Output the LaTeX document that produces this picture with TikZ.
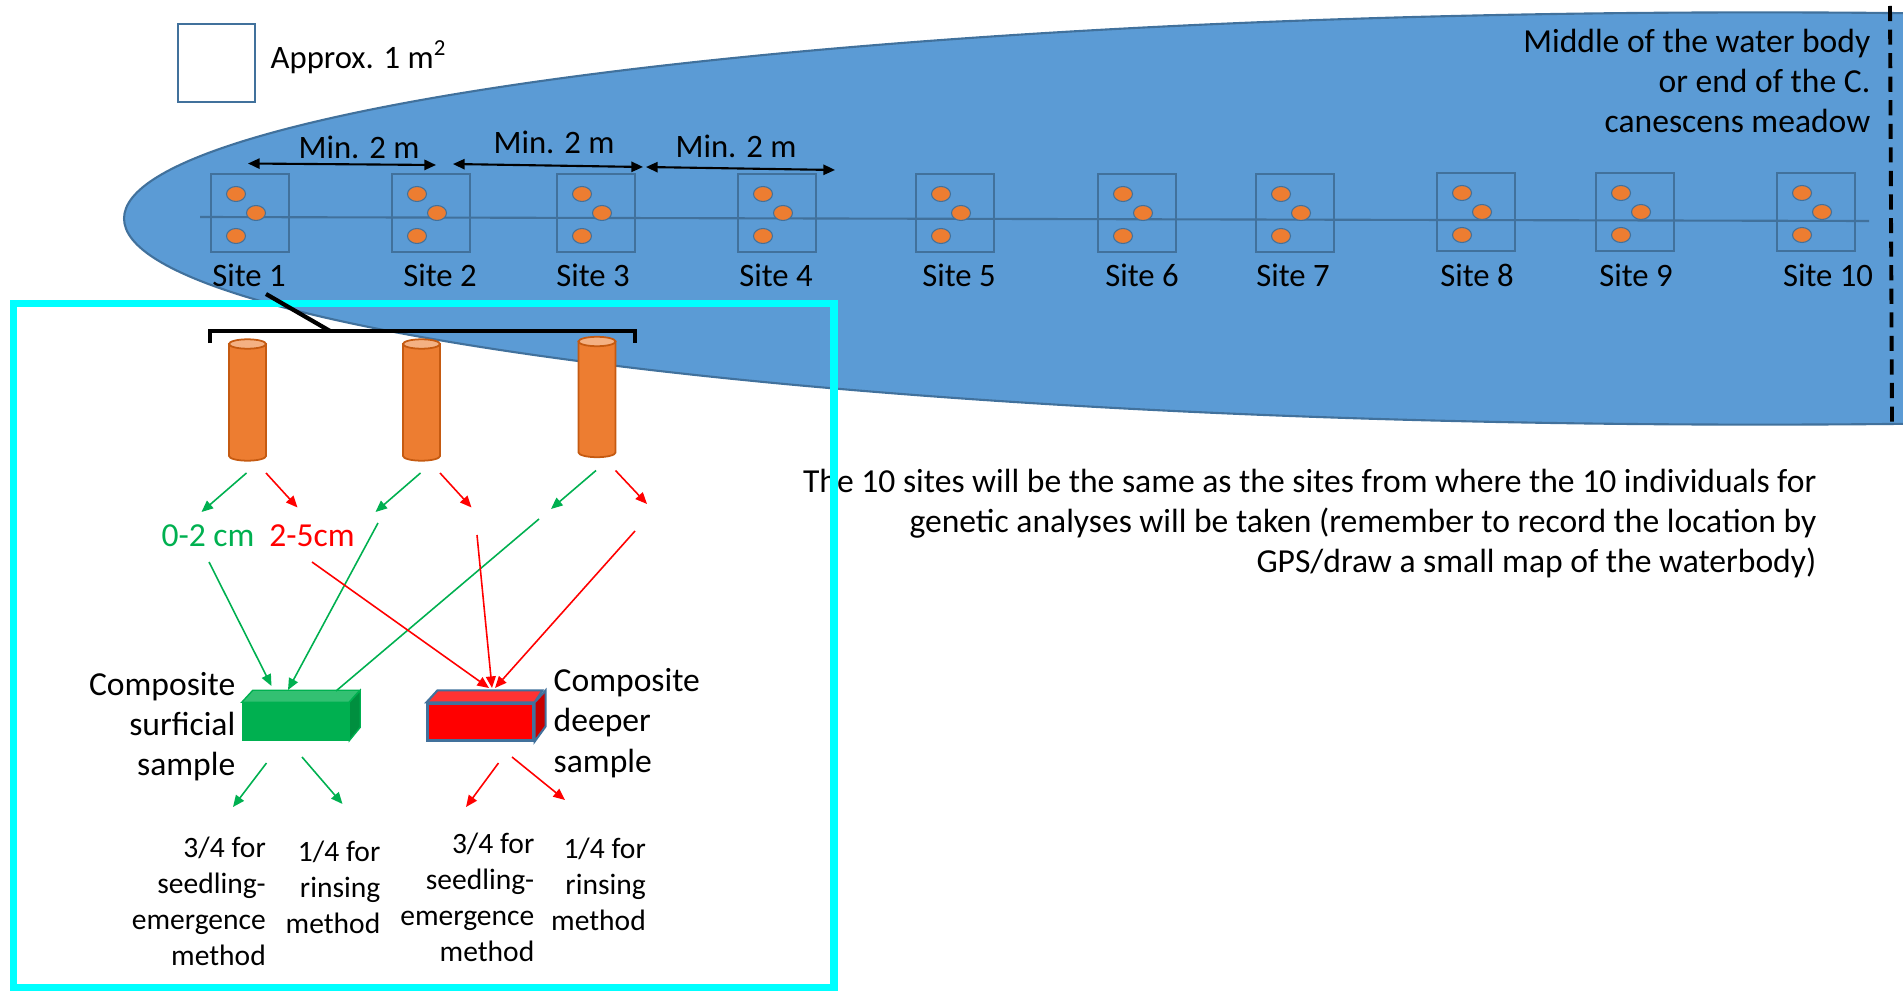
\documentclass[tikz,border=0pt]{standalone}
\usepackage{fontspec}
\setmainfont{Carlito}
\usetikzlibrary{arrows.meta,positioning}

\definecolor{water}{HTML}{5B9BD5}
\definecolor{waterline}{HTML}{41719C}
\definecolor{core}{HTML}{ED7D31}
\definecolor{coretop}{HTML}{F4B183}
\definecolor{coreline}{HTML}{C55A11}
\definecolor{surf}{HTML}{00B050}
\definecolor{surfdark}{HTML}{008F3F}
\definecolor{surftop}{HTML}{33C072}
\definecolor{deep}{HTML}{FF0000}
\definecolor{deepdark}{HTML}{C80000}
\definecolor{deeptop}{HTML}{FF3333}
\definecolor{frame}{HTML}{00FFFF}

\tikzset{
  lbl/.style={font=\fontsize{9.3}{11.4}\selectfont, inner sep=0pt},
  big/.style={font=\fontsize{9.55}{11.4}\selectfont, inner sep=0pt},
  note/.style={font=\fontsize{8.4}{10.25}\selectfont, inner sep=0pt, align=right},
  quad/.style={draw=waterline, line width=0.6pt, minimum size=0.78cm, inner sep=0pt},
  plant/.style={fill=core, draw=waterline, line width=0.3pt},
  coreend/.style={x radius=0.185cm, y radius=0.047cm},
  gap/.style={{Triangle[length=3.3pt,width=2.9pt]}-{Triangle[length=3.3pt,width=2.9pt]}, line width=0.6pt},
  surfarrow/.style={surf, line width=0.45pt, -{Triangle[length=3.3pt,width=2.8pt]}},
  deeparrow/.style={deep, line width=0.45pt, -{Triangle[length=3.3pt,width=2.8pt]}},
  block/.style={minimum width=1.06cm, minimum height=0.37cm, inner sep=0pt},
}

\begin{document}
\begin{tikzpicture}[x=0.01cm, y=-0.01cm]
  \useasboundingbox (0,0) rectangle (1903,991);

  \begin{scope}
    \clip (0,0) rectangle (1903,991);
    \filldraw[fill=water, draw=waterline, line width=0.6pt]
      (1760,218.5) ellipse [x radius=16.35cm, y radius=2.06cm];
  \end{scope}

  \node[draw=waterline, line width=0.7pt, fill=white, minimum width=0.77cm, minimum height=0.78cm] (unit) at (216.5,63) {};
  \node[lbl, anchor=base west] (unitlbl) at (270,68.5) {Approx. 1 m\textsuperscript{2}};

  \coordinate (t0) at (200,217);
  \coordinate (t1) at (1869,221);
  \draw[waterline, line width=0.6pt] (t0) -- (t1);

  \path
    (250,213) node[quad] (q1) {}
    (431,213) node[quad] (q2) {}
    (596,213) node[quad] (q3) {}
    (777,213) node[quad] (q4) {}
    (955,213) node[quad] (q5) {}
    (1137,213) node[quad] (q6) {}
    (1295,213) node[quad] (q7) {}
    (1476,212) node[quad] (q8) {}
    (1635,212) node[quad] (q9) {}
    (1816,212) node[quad] (q10) {};
  \foreach \i in {1,...,10} {
    \fill[plant] (q\i) ++(-14,-19) ellipse [x radius=0.095cm, y radius=0.075cm];
    \fill[plant] (q\i) ++(6,0) ellipse [x radius=0.095cm, y radius=0.075cm];
    \fill[plant] (q\i) ++(-14,23) ellipse [x radius=0.095cm, y radius=0.075cm];
  }
  \path
    (249,286.5) node[lbl, anchor=base] (s1) {Site 1}
    (440,286.5) node[lbl, anchor=base] (s2) {Site 2}
    (593,286.5) node[lbl, anchor=base] (s3) {Site 3}
    (776,286.5) node[lbl, anchor=base] (s4) {Site 4}
    (959,286.5) node[lbl, anchor=base] (s5) {Site 5}
    (1142,286.5) node[lbl, anchor=base] (s6) {Site 6}
    (1293,286.5) node[lbl, anchor=base] (s7) {Site 7}
    (1477,286.5) node[lbl, anchor=base] (s8) {Site 8}
    (1636,286.5) node[lbl, anchor=base] (s9) {Site 9}
    (1828,286.5) node[lbl, anchor=base] (s10) {Site 10};

  \coordinate (m0) at (248,163.5);
  \coordinate (m1) at (436,165);
  \coordinate (m2) at (453,164);
  \coordinate (m3) at (643,167);
  \coordinate (m4) at (646,167);
  \coordinate (m5) at (835,170);
  \draw[gap] (m0) -- (m1);
  \draw[gap] (m2) -- (m3);
  \draw[gap] (m4) -- (m5);
  \path
    (359,159) node[lbl, anchor=base] (d1) {Min. 2 m}
    (554,154) node[lbl, anchor=base] (d2) {Min. 2 m}
    (736,158) node[lbl, anchor=base] (d3) {Min. 2 m};

  \coordinate (e0) at (1890,6);
  \coordinate (e1) at (1892,424);
  \draw[line width=1.1pt, dash pattern=on 4.3pt off 2.4pt] (e0) -- (e1);
  \node[big, align=right, anchor=base east] (middle) at (1871,132.5)
    {Middle of the water body\\or end of the C.\\canescens meadow};

  \node[big, align=right, anchor=base east] (remark) at (1817,572.5)
    {The 10 sites will be the same as the sites from where the 10 individuals for\\
     genetic analyses will be taken (remember to record the location by\\
     GPS/draw a small map of the waterbody)};

  \draw[frame, line width=2pt] (13.5,303.5) rectangle (834,988);

  \coordinate (k0) at (266,294);
  \coordinate (k1) at (330,331);
  \draw[line width=1.2pt] (k0) -- (k1);
  \draw[line width=1.2pt] (210,343) -- (210,331) -- (635,331) -- (635,343);

  % soil cores
  \coordinate (c1) at (247.5,456);
  \coordinate (c2) at (421.5,456);
  \coordinate (c3) at (597,452.5);
  \filldraw[fill=core, draw=coreline, line width=0.5pt] (229,344) -- (229,456)
    arc [start angle=180, end angle=360, coreend] -- (266,344) -- cycle;
  \filldraw[fill=coretop, draw=coreline, line width=0.5pt] (247.5,344) ellipse [coreend];
  \filldraw[fill=core, draw=coreline, line width=0.5pt] (403,344) -- (403,456)
    arc [start angle=180, end angle=360, coreend] -- (440,344) -- cycle;
  \filldraw[fill=coretop, draw=coreline, line width=0.5pt] (421.5,344) ellipse [coreend];
  \filldraw[fill=core, draw=coreline, line width=0.5pt] (578.5,341.5) -- (578.5,452.5)
    arc [start angle=180, end angle=360, coreend] -- (615.5,341.5) -- cycle;
  \filldraw[fill=coretop, draw=coreline, line width=0.5pt] (597,341.5) ellipse [coreend];

  \draw[surfarrow] (c1) ++(-1,17) -- ++(-45,39);
  \draw[deeparrow] (c1) ++(18.5,17) -- ++(31.5,34.5);
  \draw[surfarrow] (c2) ++(-1,17) -- ++(-45,39);
  \draw[deeparrow] (c2) ++(18.5,17) -- ++(31.5,34.5);
  \draw[surfarrow] (c3) ++(-1,18) -- ++(-45,38.5);
  \draw[deeparrow] (c3) ++(18.5,18) -- ++(31.5,33.5);

  \node[big, text=surf, anchor=base] (shallow) at (208,546) {0-2 cm};
  \node[big, text=deep, anchor=base] (deeper) at (312,546) {2-5cm};

  % composite samples
  \node[block, fill=surf, draw=surf, line width=0.4pt] (surfbox) at (295.5,721.5) {};
  \filldraw[fill=surftop, draw=surf, line width=0.4pt] (surfbox.north west) -- ++(11,-12) -- ++(107,0)
    -- (surfbox.north east) -- cycle;
  \filldraw[fill=surfdark, draw=surf, line width=0.4pt] (surfbox.north east) -- ++(11,-12) -- ++(0,37)
    -- (surfbox.south east) -- cycle;
  \node[block, fill=deep, draw=waterline, line width=0.6pt] (deepbox) at (480.5,722) {};
  \filldraw[fill=deeptop, draw=waterline, line width=0.6pt] (deepbox.north west) -- ++(11,-12) -- ++(105,0)
    -- (deepbox.north east) -- cycle;
  \filldraw[fill=deepdark, draw=waterline, line width=0.6pt] (deepbox.north east) -- ++(11,-12) -- ++(0,36)
    -- (deepbox.south east) -- cycle;

  \coordinate (g1) at (209,562);
  \coordinate (g2) at (378,523);
  \coordinate (g3) at (539,519);
  \coordinate (r1) at (312,562);
  \coordinate (r2) at (477,535);
  \coordinate (r3) at (635,531);
  \coordinate (sa) at (271.5,686);
  \coordinate (sb) at (288,690);
  \coordinate (sc) at (336,691);
  \coordinate (da) at (489,688);
  \coordinate (db) at (492,688);
  \coordinate (dc) at (495,688);
  \draw[surfarrow] (g1) -- (sa);
  \draw[surfarrow] (g2) -- (sb);
  \draw[surf, line width=0.45pt] (g3) -- (sc);
  \draw[deeparrow] (r1) -- (da);
  \draw[deeparrow] (r2) -- (db);
  \draw[deeparrow] (r3) -- (dc);

  \node[big, align=right, anchor=base east] (surflbl) at (236,775.5) {Composite\\surficial\\sample};
  \node[big, align=left, anchor=base west] (deeplbl) at (553,772) {Composite\\deeper\\sample};

  % splitting each composite sample
  \coordinate (u1) at (266.5,763);
  \coordinate (u2) at (233,807);
  \coordinate (u3) at (302,757);
  \coordinate (u4) at (342.5,804);
  \coordinate (v1) at (498.5,763);
  \coordinate (v2) at (466,807);
  \coordinate (v3) at (512,757);
  \coordinate (v4) at (565,800);
  \draw[surfarrow] (u1) -- (u2);
  \draw[surfarrow] (u3) -- (u4);
  \draw[deeparrow] (v1) -- (v2);
  \draw[deeparrow] (v3) -- (v4);

  \node[note, anchor=base east] (seed1) at (266.5,965.5) {3/4 for\\seedling-\\emergence\\method};
  \node[note, anchor=base east] (rinse1) at (381,933.5) {1/4 for\\rinsing\\method};
  \node[note, anchor=base east] (seed2) at (535,961.5) {3/4 for\\seedling-\\emergence\\method};
  \node[note, anchor=base east] (rinse2) at (646.5,930.5) {1/4 for\\rinsing\\method};
\end{tikzpicture}
\end{document}
